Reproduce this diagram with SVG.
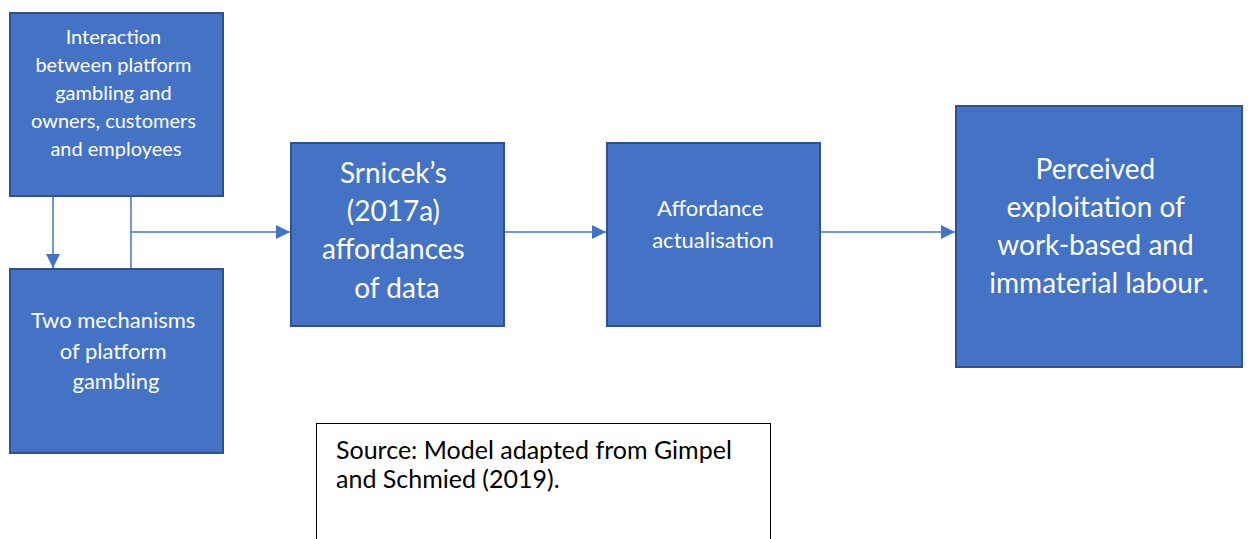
<svg xmlns="http://www.w3.org/2000/svg" width="1248" height="539" viewBox="0 0 1248 539">
  <defs>
    <marker id="arrow" markerWidth="14" markerHeight="14" refX="14" refY="7" orient="auto" markerUnits="userSpaceOnUse">
      <path d="M0,0 L14,7 L0,14 Z" fill="#4472C4"/>
    </marker>
    <style>
      .box { fill: #4472C4; stroke: #2F528F; stroke-width: 2; }
      .lbl { fill: #FFFFFF; font-family: Lato, "Open Sans", sans-serif; text-anchor: middle; }
      .conn { stroke: #4472C4; stroke-width: 1.5; fill: none; }
      .note { fill: #FFFFFF; stroke: #000000; stroke-width: 1; }
      .noteText { fill: #000000; font-family: Lato, "Open Sans", sans-serif; font-size: 25px; }
    </style>
  </defs>
  <rect width="1248" height="539" fill="#FFFFFF"/>

  <g id="connectors">
    <line class="conn" x1="53" y1="196" x2="53" y2="268" marker-end="url(#arrow)"/>
    <line class="conn" x1="131" y1="196" x2="131" y2="268"/>
    <line class="conn" x1="131" y1="232" x2="290" y2="232" marker-end="url(#arrow)"/>
    <line class="conn" x1="505" y1="232" x2="606" y2="232" marker-end="url(#arrow)"/>
    <line class="conn" x1="821" y1="232" x2="955" y2="232" marker-end="url(#arrow)"/>
  </g>

  <g id="interaction">
    <rect class="box" x="10" y="13" width="213" height="183"/>
    <text class="lbl" font-size="20">
      <tspan x="116" y="44">Interaction</tspan>
      <tspan x="116" y="72">between platform</tspan>
      <tspan x="116" y="100">gambling and</tspan>
      <tspan x="116" y="128">owners, customers</tspan>
      <tspan x="116" y="156">and employees</tspan>
    </text>
  </g>

  <g id="mechanisms">
    <rect class="box" x="10" y="269" width="213" height="184"/>
    <text class="lbl" font-size="22">
      <tspan x="116" y="328">Two mechanisms</tspan>
      <tspan x="116" y="359">of platform</tspan>
      <tspan x="116" y="389">gambling</tspan>
    </text>
  </g>

  <g id="affordances">
    <rect class="box" x="291" y="143" width="213" height="183"/>
    <text class="lbl" font-size="28">
      <tspan x="397" y="183">Srnicek’s</tspan>
      <tspan x="397" y="221">(2017a)</tspan>
      <tspan x="397" y="259">affordances</tspan>
      <tspan x="397" y="298">of data</tspan>
    </text>
  </g>

  <g id="actualisation">
    <rect class="box" x="607" y="143" width="213" height="183"/>
    <text class="lbl" font-size="22">
      <tspan x="713" y="216">Affordance</tspan>
      <tspan x="713" y="248">actualisation</tspan>
    </text>
  </g>

  <g id="exploitation">
    <rect class="box" x="956" y="106" width="286" height="261"/>
    <text class="lbl" font-size="28">
      <tspan x="1099" y="179">Perceived</tspan>
      <tspan x="1099" y="217">exploitation of</tspan>
      <tspan x="1099" y="255">work-based and</tspan>
      <tspan x="1099" y="293">immaterial labour.</tspan>
    </text>
  </g>

  <g id="source">
    <rect class="note" x="316.5" y="423.5" width="454" height="130"/>
    <text class="noteText">
      <tspan x="336" y="459">Source: Model adapted from Gimpel</tspan>
      <tspan x="336" y="488">and Schmied (2019).</tspan>
    </text>
  </g>
</svg>
